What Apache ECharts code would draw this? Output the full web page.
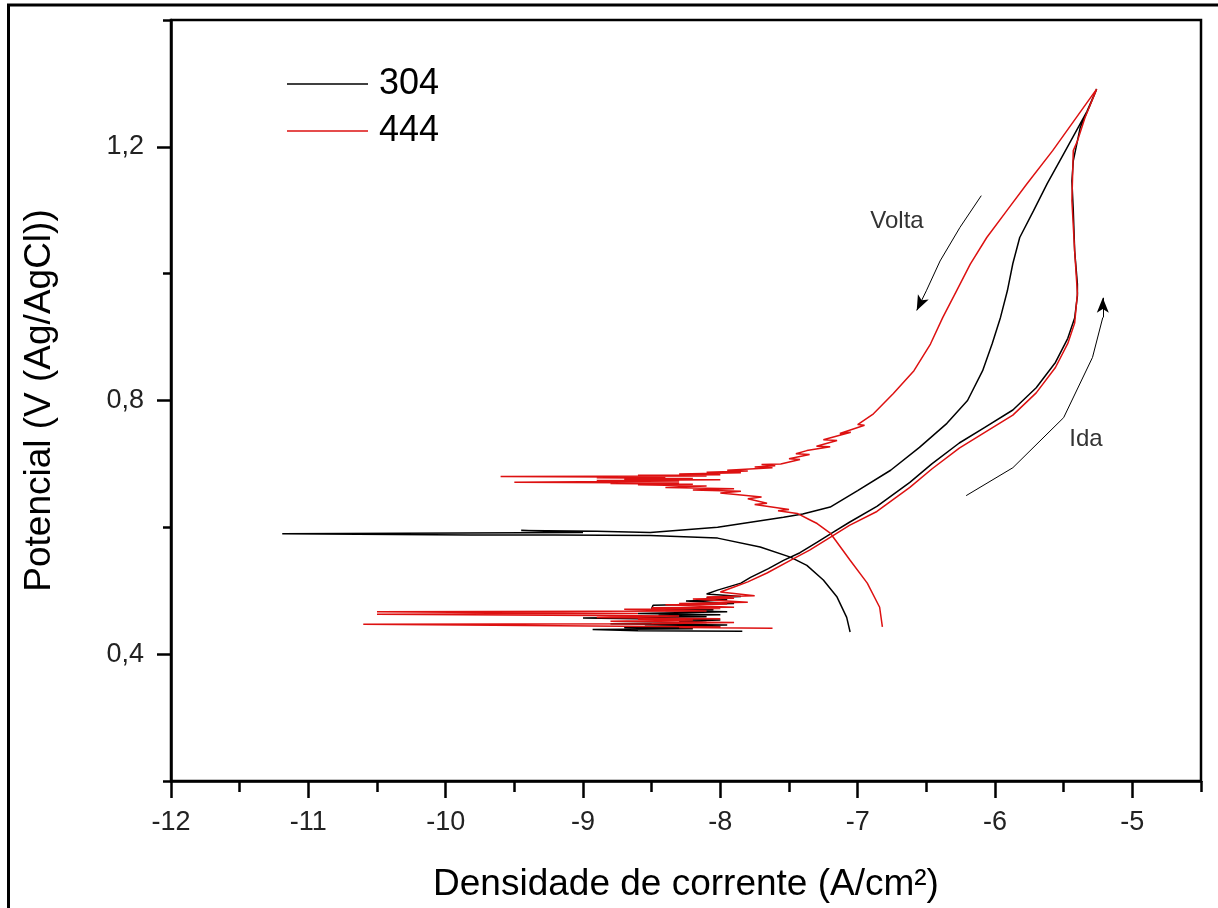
<!DOCTYPE html>
<html>
<head>
<meta charset="utf-8">
<script src="https://cdn.jsdelivr.net/npm/echarts@6/dist/echarts.min.js"></script>
<style>
  html, body { margin: 0; padding: 0; background: #fff; }
  #chart { width: 1218px; height: 908px; }
</style>
</head>
<body>
<div id="chart"></div>
<script>
// ---- tick values ----
const xMajorTicks = [-12, -11, -10, -9, -8, -7, -6, -5];
const xMinorTicks = [-11.5, -10.5, -9.5, -8.5, -7.5, -6.5, -5.5, -4.5];
const yMajorTicks = [0.4, 0.8, 1.2];
const yMinorTicks = [0.2, 0.6, 1.0, 1.4];

// ---- series: [log i (A/cm2), E (V Ag/AgCl)] ----
// 304 forward scan (Ida)
const ida304 = [
  [-7.84,0.436],[-8.6,0.437],[-8.93,0.439],[-8.2,0.440],[-8.7,0.442],[-8.0,0.443],[-8.55,0.444],
  [-7.95,0.446],[-8.8,0.448],[-8.1,0.450],[-8.3,0.452],[-8.0,0.454],[-9.0,0.457],[-8.1,0.459],
  [-8.45,0.461],[-8.0,0.462],[-8.6,0.464],[-7.95,0.467],[-8.4,0.469],[-8.05,0.470],[-8.5,0.472],
  [-8.49,0.477],[-7.9,0.480],[-8.25,0.484],[-7.95,0.486],[-8.1,0.489],[-7.85,0.491],[-8.1,0.495],
  [-8.02,0.501],[-7.85,0.512],[-7.78,0.521],[-7.65,0.535],[-7.54,0.548],[-7.42,0.560],[-7.30,0.576],
  [-7.18,0.592],[-7.06,0.608],[-6.86,0.633],[-6.62,0.671],[-6.46,0.700],[-6.26,0.733],[-6.08,0.757],
  [-5.87,0.785],[-5.70,0.820],[-5.56,0.860],[-5.47,0.898],[-5.42,0.930],[-5.40,0.965],[-5.40,0.984],
  [-5.42,1.036],[-5.43,1.100],[-5.44,1.146],[-5.43,1.178],[-5.38,1.230],[-5.31,1.265],[-5.26,1.291]
];
// 304 reverse scan (Volta)
const volta304 = [
  [-5.26,1.291],[-5.33,1.256],[-5.50,1.189],[-5.62,1.142],[-5.72,1.099],[-5.82,1.057],[-5.87,1.016],
  [-5.91,0.973],[-5.96,0.931],[-6.02,0.890],[-6.09,0.847],[-6.20,0.800],[-6.35,0.764],[-6.55,0.726],
  [-6.76,0.690],[-7.00,0.658],[-7.20,0.632],[-7.40,0.621],[-7.54,0.616],[-8.02,0.600],[-8.51,0.592],
  [-8.9,0.594],[-9.45,0.595],[-9.0,0.592],[-11.19,0.590],[-9.82,0.588],[-9.2,0.588],[-8.51,0.587],
  [-8.02,0.583],[-7.71,0.569],[-7.49,0.553],[-7.37,0.540],[-7.25,0.517],[-7.15,0.490],[-7.08,0.458],
  [-7.055,0.435]
];
// 444 forward scan (Ida)
const ida444 = [
  [-7.62,0.441],[-8.3,0.442],[-8.0,0.443],[-10.6,0.447],[-8.5,0.448],[-7.9,0.450],[-8.8,0.452],
  [-8.2,0.454],[-8.6,0.455],[-8.0,0.456],[-8.9,0.458],[-8.3,0.460],[-10.5,0.463],[-8.6,0.464],
  [-10.5,0.467],[-8.1,0.468],[-8.7,0.471],[-8.0,0.472],[-8.5,0.473],[-7.9,0.474],[-8.4,0.478],
  [-7.95,0.479],[-8.3,0.480],[-7.8,0.482],[-8.2,0.487],[-7.9,0.488],[-8.1,0.490],[-7.75,0.492],
  [-8.0,0.498],[-7.90,0.506],[-7.80,0.514],[-7.66,0.528],[-7.49,0.548],[-7.35,0.564],[-7.20,0.584],
  [-7.06,0.603],[-6.86,0.625],[-6.62,0.663],[-6.46,0.692],[-6.26,0.725],[-6.08,0.749],[-5.87,0.777],
  [-5.70,0.812],[-5.56,0.852],[-5.47,0.890],[-5.42,0.922],[-5.40,0.969],[-5.42,1.036],[-5.44,1.115],
  [-5.43,1.194],[-5.40,1.209],[-5.345,1.246],[-5.26,1.291]
];
// 444 reverse scan (Volta)
const volta444 = [
  [-5.26,1.291],[-5.58,1.194],[-5.77,1.141],[-5.915,1.099],[-6.06,1.057],[-6.18,1.015],[-6.28,0.973],
  [-6.38,0.931],[-6.47,0.889],[-6.59,0.847],[-6.74,0.811],[-6.885,0.779],[-7.00,0.762],[-6.95,0.761],
  [-7.13,0.748],[-7.05,0.750],[-7.25,0.738],[-7.15,0.737],[-7.30,0.728],[-7.20,0.727],[-7.37,0.721],
  [-7.45,0.716],[-7.35,0.715],[-7.50,0.708],[-7.42,0.707],[-7.56,0.700],[-7.70,0.699],[-7.60,0.697],
  [-7.75,0.695],[-7.62,0.694],[-7.95,0.690],[-7.80,0.689],[-8.10,0.687],[-7.85,0.686],[-8.30,0.684],
  [-8.00,0.683],[-8.60,0.682],[-8.10,0.681],[-9.60,0.680],[-8.40,0.679],[-8.90,0.678],[-8.20,0.677],
  [-8.70,0.676],[-8.00,0.675],[-8.90,0.674],[-8.30,0.673],[-9.50,0.671],[-8.30,0.670],[-8.80,0.669],
  [-8.20,0.668],[-8.60,0.667],[-8.10,0.665],[-8.40,0.663],[-7.90,0.661],[-8.20,0.659],[-7.85,0.657],
  [-8.00,0.654],[-7.70,0.648],[-7.80,0.645],[-7.66,0.638],[-7.75,0.636],[-7.50,0.628],[-7.58,0.626],
  [-7.44,0.622],[-7.35,0.612],[-7.295,0.606],[-7.2,0.591],[-7.055,0.548],[-6.93,0.512],[-6.84,0.474],
  [-6.82,0.443]
];
// annotation arrows
const arrowVolta = [[-6.10,1.123],[-6.255,1.073],[-6.40,1.020],[-6.50,0.973]];
const arrowVoltaTip = [-6.57,0.942];
const arrowIda = [[-6.21,0.650],[-5.87,0.694],[-5.50,0.773],[-5.29,0.868],[-5.215,0.931]];
const arrowIdaTip = [-5.215,0.962];

const FONT = '"Liberation Sans", Arial, sans-serif';
const chart = echarts.init(document.getElementById('chart'), null, { renderer: 'canvas' });

function arrowSeries(name, pts, tip) {
  return {
    name: name, type: 'line', data: pts, xAxisIndex: 0, yAxisIndex: 0,
    symbol: 'none', showSymbol: false, smooth: false, silent: true,
    lineStyle: { color: '#000', width: 1 },
    markLine: {
      silent: true, animation: false,
      symbol: ['none', 'arrow'], symbolSize: [9, 15],
      label: { show: false },
      lineStyle: { color: '#000', width: 1, type: 'solid' },
      data: [[{ coord: pts[pts.length - 1] }, { coord: tip }]]
    }
  };
}

const axisLineStyle = { color: '#000', width: 2.5 };

const option = {
  animation: false,
  backgroundColor: '#fff',
  grid: {
    left: 171, right: 17, top: 20, bottom: 127,
    show: true, borderColor: '#000', borderWidth: 2.5,
    containLabel: false, outerBoundsMode: 'none'
  },
  legend: {
    data: ['304', '444'],
    orient: 'vertical',
    left: 282, top: 61,
    icon: 'rect',
    itemWidth: 81, itemHeight: 1.5, itemGap: 11,
    textStyle: { fontSize: 36, color: '#000', fontFamily: FONT, lineHeight: 36, padding: [0, 0, 0, 6] }
  },
  xAxis: [
    {
      type: 'value', min: -12, max: -4.5, position: 'bottom',
      name: 'Densidade de corrente (A/cm²)', nameLocation: 'middle', nameGap: 85,
      nameTextStyle: { fontSize: 37, color: '#000', fontFamily: FONT },
      axisLine: { show: true, onZero: false, lineStyle: axisLineStyle },
      axisTick: { show: true, customValues: xMajorTicks, length: 17, lineStyle: axisLineStyle },
      axisLabel: { show: true, customValues: xMajorTicks, margin: 28, fontSize: 27, color: '#222', fontFamily: FONT,
        formatter: v => String(v) },
      splitLine: { show: false }
    },
    {
      type: 'value', min: -12, max: -4.5, position: 'bottom',
      axisLine: { show: false, onZero: false },
      axisTick: { show: true, customValues: xMinorTicks, length: 11, lineStyle: axisLineStyle },
      axisLabel: { show: false },
      splitLine: { show: false }
    }
  ],
  yAxis: [
    {
      type: 'value', min: 0.2, max: 1.4, position: 'left',
      name: 'Potencial (V (Ag/AgCl))', nameLocation: 'middle', nameGap: 113, nameRotate: 90,
      nameTextStyle: { fontSize: 37, color: '#000', fontFamily: FONT },
      axisLine: { show: true, onZero: false, lineStyle: axisLineStyle },
      axisTick: { show: true, customValues: yMajorTicks, length: 14, lineStyle: axisLineStyle },
      axisLabel: { show: true, customValues: yMajorTicks, margin: 27, fontSize: 27, color: '#222', fontFamily: FONT,
        formatter: v => Number(v).toFixed(1).replace('.', ',') },
      splitLine: { show: false }
    },
    {
      type: 'value', min: 0.2, max: 1.4, position: 'left',
      axisLine: { show: false, onZero: false },
      axisTick: { show: true, customValues: yMinorTicks, length: 8, lineStyle: axisLineStyle },
      axisLabel: { show: false },
      splitLine: { show: false }
    }
  ],
  series: [
    {
      name: '304', type: 'line', data: ida304.concat(volta304.slice(1)),
      symbol: 'none', showSymbol: false, smooth: false,
      lineStyle: { color: '#000', width: 1.5 }, itemStyle: { color: '#000' }
    },
    {
      name: '444', type: 'line', data: ida444.concat(volta444.slice(1)),
      symbol: 'none', showSymbol: false, smooth: false,
      lineStyle: { color: '#dd1111', width: 1.5 }, itemStyle: { color: '#dd1111' }
    },
    arrowSeries('arrowVolta', arrowVolta, arrowVoltaTip),
    arrowSeries('arrowIda', arrowIda, arrowIdaTip)
  ],
  graphic: [
    { type: 'line', silent: true, shape: { x1: 8.5, y1: 5, x2: 8.5, y2: 908 }, style: { stroke: '#000', lineWidth: 3 } },
    { type: 'line', silent: true, shape: { x1: 7, y1: 5, x2: 1218, y2: 5 }, style: { stroke: '#000', lineWidth: 3 } },
    { type: 'text', silent: true, x: 897, y: 221,
      style: { text: 'Volta', fontSize: 24, fontFamily: FONT, fill: '#333', align: 'center', verticalAlign: 'middle' } },
    { type: 'text', silent: true, x: 1086, y: 439,
      style: { text: 'Ida', fontSize: 24, fontFamily: FONT, fill: '#333', align: 'center', verticalAlign: 'middle' } }
  ]
};
chart.setOption(option);
</script>
</body>
</html>
